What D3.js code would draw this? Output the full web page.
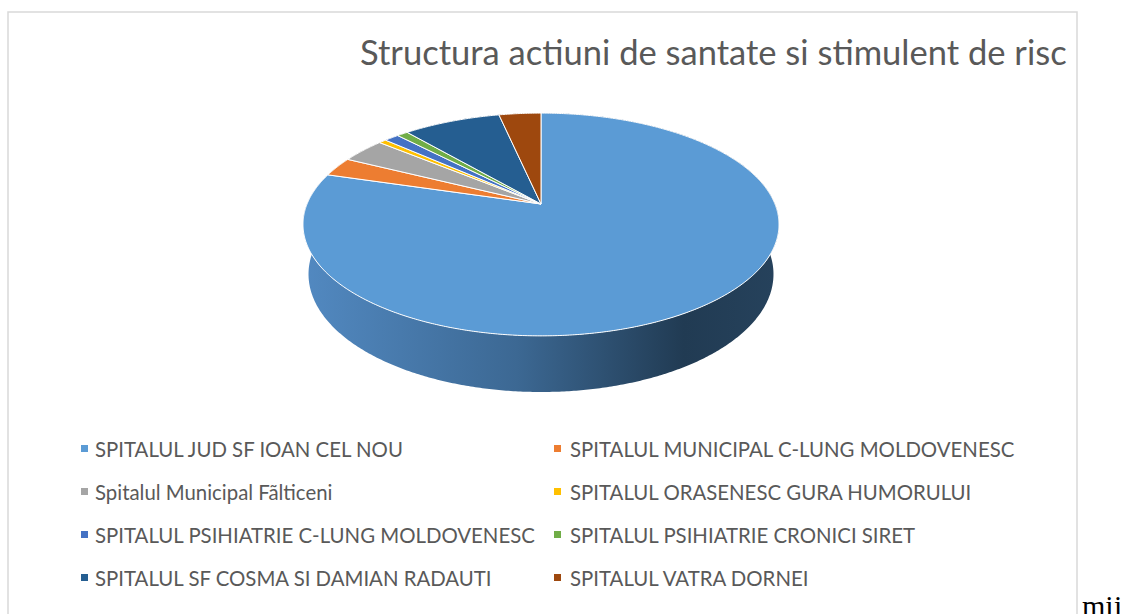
<!DOCTYPE html>
<html>
<head>
<meta charset="utf-8">
<script src="https://cdn.jsdelivr.net/npm/d3@7"></script>
<style>
  body { margin: 0; background: #fff; }
  svg { display: block; }
</style>
</head>
<body>
<div id="chart"></div>
<script>
// 3D pie: Structura actiuni de santate si stimulent de risc

// Data
const categories = [
  "SPITALUL JUD SF IOAN CEL NOU",
  "SPITALUL MUNICIPAL C-LUNG MOLDOVENESC",
  "Spitalul Municipal Fãlticeni",
  "SPITALUL ORASENESC GURA HUMORULUI",
  "SPITALUL PSIHIATRIE C-LUNG MOLDOVENESC",
  "SPITALUL PSIHIATRIE CRONICI SIRET",
  "SPITALUL SF COSMA SI DAMIAN RADAUTI",
  "SPITALUL VATRA DORNEI"
];
const values = [79.6, 2.8, 3.6, 0.6, 1.2, 0.9, 7.9, 3.4];
const palette = ["#5B9BD5", "#ED7D31", "#A5A5A5", "#FFC000", "#4472C4", "#70AD47", "#255E91", "#9E480E"];

const width = 1131, height = 614;
const textColor = "#595959";

const svg = d3.select("#chart")
  .append("svg")
  .attr("width", width)
  .attr("height", height);

// chart frame
svg.append("rect")
  .attr("x", 8).attr("y", 12)
  .attr("width", 1069).attr("height", 640)
  .attr("fill", "#fff")
  .attr("stroke", "#d9d9d9")
  .attr("stroke-width", 1.5);

// Perspective projection of a unit disc (top at y3 = 0, bottom at y3 = -thick)
const cx = 541, cy = 204, focal = 1130, dist = 4.83;
const sinT = 0.46, cosT = 0.888, thick = 0.2413;

function project(theta, r, y3) {
  const X = r * Math.sin(theta), Z = r * Math.cos(theta);
  const depth = dist + Z * cosT - y3 * sinT;
  const up = y3 * cosT + Z * sinT;
  return [cx + focal * X / depth, cy - focal * up / depth];
}

function rimPoints(a0, a1, y3) {
  const n = Math.max(2, Math.ceil((a1 - a0) / (Math.PI / 360)));
  return d3.range(n + 1).map(i => project(a0 + (a1 - a0) * i / n, 1, y3));
}

const color = d3.scaleOrdinal().domain(categories).range(palette);

const arcs = d3.pie().sort(null).value(d => d)(values)
  .map((a, i) => ({...a, name: categories[i]}));

// side shading
const defs = svg.append("defs");
const grad = defs.append("linearGradient")
  .attr("id", "side")
  .attr("gradientUnits", "userSpaceOnUse")
  .attr("x1", 303).attr("x2", 779).attr("y1", 0).attr("y2", 0);
[[0, "#5289c1"], [0.45, "#3c6893"], [0.8, "#213b53"], [1, "#26425c"]]
  .forEach(([o, c]) => grad.append("stop").attr("offset", o).attr("stop-color", c));

const line = d3.line();

// side walls
svg.append("g")
  .selectAll("path")
  .data(arcs)
  .join("path")
    .attr("d", d => {
      const top = rimPoints(d.startAngle, d.endAngle, 0);
      const bottom = rimPoints(d.startAngle, d.endAngle, -thick).reverse();
      return line(top.concat(bottom)) + "Z";
    })
    .attr("fill", (d, i) => i === 0 ? "url(#side)" : d3.color(color(d.name)).darker(1.2))
    .attr("stroke", "none");

// top faces
svg.append("g")
  .selectAll("path")
  .data(arcs)
  .join("path")
    .attr("d", d => line([[cx, cy]].concat(rimPoints(d.startAngle, d.endAngle, 0))) + "Z")
    .attr("fill", d => color(d.name))
    .attr("stroke", "#fff")
    .attr("stroke-width", 1)
    .attr("stroke-linejoin", "round");

// Title, fitted to width
const title = svg.append("text")
  .attr("x", 360)
  .attr("y", 65)
  .attr("fill", textColor)
  .attr("font-family", "Lato, 'Open Sans', sans-serif")
  .attr("font-size", 30)
  .text("Structura actiuni de santate si stimulent de risc");
const tw = title.node().getComputedTextLength();
title.attr("font-size", 30 * 707 / tw);

// Legend
const colX = [81, 554], textX = [95, 570];
const legend = svg.append("g")
  .attr("font-family", "Lato, 'Open Sans', sans-serif")
  .attr("fill", textColor);

const items = legend.selectAll("g")
  .data(categories)
  .join("g")
    .attr("transform", (d, i) => `translate(0,${457 + Math.floor(i / 2) * 43})`);

items.append("rect")
  .attr("x", (d, i) => colX[i % 2])
  .attr("y", -12)
  .attr("width", 7)
  .attr("height", 7)
  .attr("fill", d => color(d));

const labels = items.append("text")
  .attr("x", (d, i) => textX[i % 2])
  .attr("font-size", 20)
  .text(d => d);

const lw = labels.filter((d, i) => i === 0).node().getComputedTextLength();
labels.attr("font-size", 20 * 308 / lw);

// stray document text
svg.append("text")
  .attr("x", 1082)
  .attr("y", 616)
  .attr("font-family", "'Liberation Serif', 'Times New Roman', serif")
  .attr("font-size", 30)
  .attr("fill", "#000")
  .text("mij");
</script>
</body>
</html>
